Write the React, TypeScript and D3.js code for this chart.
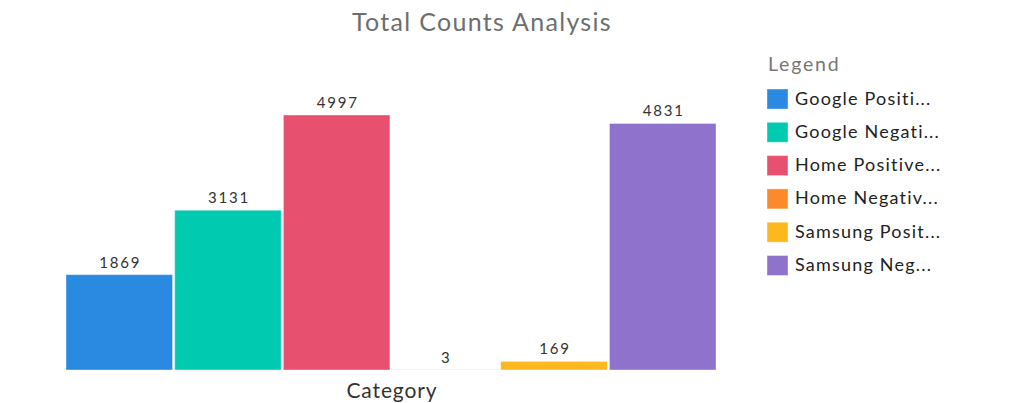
import React from 'react';
import * as d3 from 'd3';

const categories = ['Google Positive', 'Google Negative', 'Home Positive', 'Home Negative', 'Samsung Positive', 'Samsung Negative'];
const legendLabels = ['Google Positi...', 'Google Negati...', 'Home Positive...', 'Home Negativ...', 'Samsung Posit...', 'Samsung Neg...'];
const counts = [1869, 3131, 4997, 3, 169, 4831];
const colors = ['#2a89e0', '#00cbb1', '#e8506f', '#fb8b2a', '#fdb820', '#8f72cc'];

const W = 1021;
const H = 403;
const margin = { top: 115, right: 305, bottom: 33, left: 66 };
const font = 'Lato, "Open Sans", sans-serif';

const App: React.FC = () => {
    const x = d3.scaleBand<string>()
        .domain(categories)
        .range([margin.left, W - margin.right])
        .paddingInner(0.02)
        .paddingOuter(0);

    const y = d3.scaleLinear()
        .domain([0, d3.max(counts) as number])
        .range([H - margin.bottom, margin.top]);

    const plotMid = (margin.left + W - margin.right) / 2;

    return (
        <svg width={W} height={H} style={{ position: 'absolute', left: 0, top: 0, display: 'block' }} fontFamily={font}>
            <rect width={W} height={H} fill="#fff" />
            <text x={482} y={31} textAnchor="middle" fontSize={25} letterSpacing={1.3} fill="#6e6e6e">Total Counts Analysis</text>

            {categories.map((c, i) => {
                const top = y(counts[i]);
                return (
                    <g key={c}>
                        <rect
                            x={x(c)}
                            y={top}
                            width={x.bandwidth()}
                            height={y(0) - top}
                            fill={colors[i]}
                            stroke="#fff"
                            strokeOpacity={0.4}
                            strokeWidth={1}
                        />
                        <text
                            x={(x(c) as number) + x.bandwidth() / 2 + 1}
                            y={top - 7}
                            textAnchor="middle"
                            fontSize={15}
                            letterSpacing={1.8}
                            fill="#333"
                        >
                            {counts[i]}
                        </text>
                    </g>
                );
            })}

            <text x={plotMid + 1} y={398} textAnchor="middle" fontSize={21} letterSpacing={0.9} fill="#333">Category</text>

            <g transform="translate(767,0)">
                <text x={1} y={71} fontSize={19.5} letterSpacing={1.8} fill="#777">Legend</text>
                {legendLabels.map((l, i) => (
                    <g key={l} transform={`translate(0,${89 + i * 33.3})`}>
                        <rect width={21} height={20} fill={colors[i]} stroke="#fff" strokeOpacity={0.4} />
                        <text x={28} y={15.5} fontSize={18} letterSpacing={1.2} fill="#222">{l}</text>
                    </g>
                ))}
            </g>
        </svg>
    );
};

export default App;
